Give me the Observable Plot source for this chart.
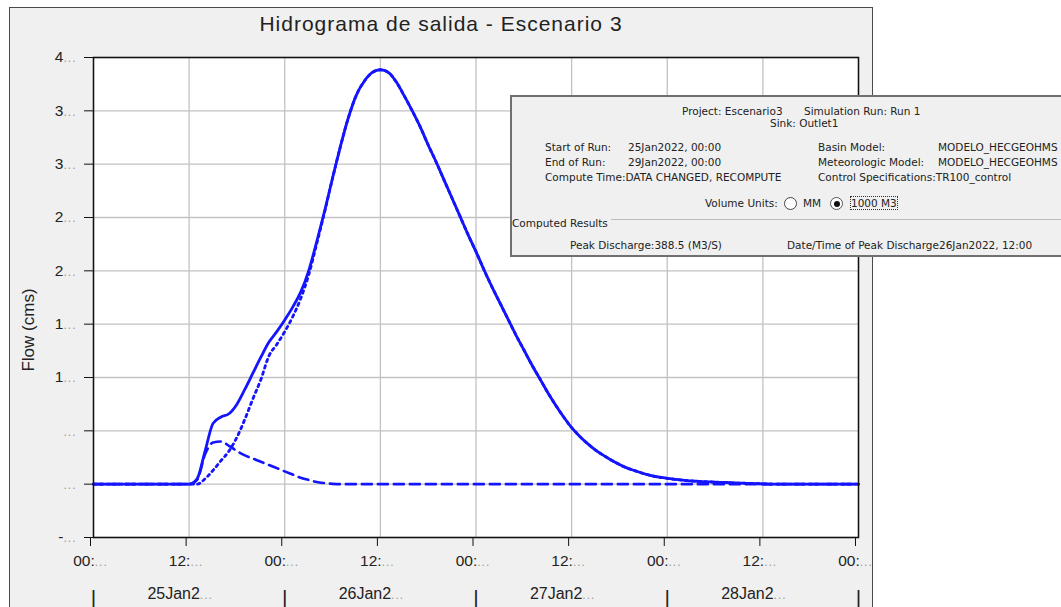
<!DOCTYPE html>
<html><head><meta charset="utf-8">
<script src="https://cdn.jsdelivr.net/npm/d3@7"></script>
<script src="https://cdn.jsdelivr.net/npm/@observablehq/plot@0.6"></script>
<style>
html,body{margin:0;padding:0;background:#fff;}
body{width:1061px;height:607px;overflow:hidden;position:relative;font-family:"Liberation Sans",Arial,sans-serif;}
#panel{position:absolute;left:9px;top:7px;width:864px;height:610px;background:#f0f0f0;border:1.5px solid #4a4a4a;box-sizing:border-box;}
#chart{position:absolute;left:0;top:0;}
#title{position:absolute;left:9px;width:864px;top:12px;text-align:center;font-size:21px;letter-spacing:1px;color:#222;white-space:nowrap;}
#ylab{position:absolute;left:29px;top:330px;transform:translate(-50%,-50%) rotate(-90deg);font-size:17px;color:#222;white-space:nowrap;}
#info{position:absolute;left:510px;top:95px;width:570px;height:162px;background:#f0f0f0;border:2px solid #707070;box-sizing:border-box;}
.t{position:absolute;font-family:"DejaVu Sans",sans-serif;font-size:10.5px;line-height:12px;color:#222;white-space:nowrap;}
.radio{position:absolute;width:13px;height:13px;border-radius:50%;border:1px solid #444;background:#fff;box-sizing:border-box;}
.radio.on::after{content:"";position:absolute;left:2.5px;top:2.5px;width:6px;height:6px;border-radius:50%;background:#111;}
#sep{position:absolute;left:611px;top:219px;width:460px;height:1px;background:#bdbdbd;}
</style></head>
<body>
<div id="panel"></div>
<div id="chart"></div>
<div id="title">Hidrograma de salida - Escenario 3</div>
<div id="ylab">Flow (cms)</div>
<div id="info"></div>
<div id="sep"></div>
<script>
// ---- data ----
const startDay = Date.UTC(2022, 0, 25);
const hours = d3.range(0, 97);               // hourly time steps from 25Jan2022 00:00
// Outlet1 total outflow (solid)
const totalFlow = [0,0,0,0,0,0,0,0,0,0,0,0,0,5,31,57,63,66,75,89,104,119,133,143,154,166,180,200,227,256,287,317,344,365,378,386,388.5,386,377,364,350,335,318,302,285,268,251,234,218,201,185,170,155,140,126,112,99,86,74,63,53,45,38,32,27,22.5,18.5,15,12.5,10,8,6.5,5.5,4.5,3.7,3,2.6,2.2,1.9,1.6,1.3,1,0.8,0.5,0.3,0,0,0,0,0,0,0,0,0,0,0,0,0];
// first inflow (dashed)
const dashedFlow = [0,0,0,0,0,0,0,0,0,0,0,0,0,4,28,39,40,36,31,27,24,21,18,15,12,9,6,4,2,1,0.3,0,0,0,0,0,0,0,0,0,0,0,0,0,0,0,0,0,0,0,0,0,0,0,0,0,0,0,0,0,0,0,0,0,0,0,0,0,0,0,0,0,0,0,0,0,0,0,0,0,0,0,0,0,0,0,0,0,0,0,0,0,0,0,0,0,0];
// second inflow (dotted)
const dottedFlow = [0,0,0,0,0,0,0,0,0,0,0,0,0,0,5,13,22,31,44,61,80,98,120,131,143,157,174,196,225,255,287,317,344,365,378,386,388.5,386,377,364,350,335,318,302,285,268,251,234,218,201,185,170,155,140,126,112,99,86,74,63,53,45,38,32,27,22.5,18.5,15,12.5,10,8,6.5,5.5,4.5,3.7,3,2.6,2.2,1.9,1.6,1.3,1,0.8,0.5,0.3,0,0,0,0,0,0,0,0,0,0,0,0,0];

const yTicks = [-50,0,50,100,150,200,250,300,350,400];
const yTickLabels = ["-...","...","...","1...","1...","2...","2...","3...","3...","4..."];
const xTickHours = [0,12,24,36,48,60,72,84,96];
const xTickLabels = ["00:...","12:...","00:...","12:...","00:...","12:...","00:...","12:...","00:..."];
const dayNames = ["25Jan2...","26Jan2...","27Jan2...","28Jan2..."];
const dayBoundHours = [0,24,48,72,96];

// ---- build ----
const H = 3600e3;
const toDate = h => new Date(startDay + h * H);
const rows = (arr, s) => hours.map((h, i) => ({t: toDate(h), v: arr[i], s}));
const xTicks = xTickHours.map(toDate);
const blue = "#1414ff";

const chart = Plot.plot({
  width: 1061, height: 607,
  marginLeft: 93, marginRight: 203, marginTop: 57, marginBottom: 70,
  style: {background: "transparent", fontFamily: "Liberation Sans, Arial, sans-serif", fontSize: "15px", color: "#222", overflow: "visible"},
  x: {type: "utc", domain: [toDate(0), toDate(96)]},
  y: {domain: [-50, 400]},
  marks: [
    Plot.frame({fill: "white"}),
    Plot.gridX(xTicks, {stroke: "#c2c2c2", strokeOpacity: 1, strokeWidth: 1.3}),
    Plot.gridY(yTicks, {stroke: "#c2c2c2", strokeOpacity: 1, strokeWidth: 1.3}),
    Plot.lineY(rows(dashedFlow, "a"), {x: "t", y: "v", stroke: blue, strokeWidth: 2.6, strokeDasharray: "10,6", curve: "monotone-x"}),
    Plot.lineY(rows(dottedFlow, "b"), {x: "t", y: "v", stroke: blue, strokeWidth: 2.8, strokeDasharray: "2.5,4", curve: "monotone-x"}),
    Plot.lineY(rows(totalFlow, "c"), {x: "t", y: "v", stroke: blue, strokeWidth: 2.8, curve: "monotone-x"}),
    Plot.frame({stroke: "#111", strokeWidth: 1.5}),
    Plot.axisX(xTicks, {tickSize: 9, tickPadding: 8, label: null, fontSize: 15, dx: -3, stroke: "#111",
      tickFormat: (d) => xTickLabels[xTicks.findIndex(t => +t === +d)]}),
    Plot.axisY(yTicks, {tickSize: 9, tickPadding: 8, label: null, fontSize: 15, stroke: "#111",
      tickFormat: (d) => yTickLabels[yTicks.indexOf(d)]}),
    Plot.text(dayNames, {x: (d, i) => toDate(dayBoundHours[i] + 12), frameAnchor: "bottom", dy: 61, dx: -9, text: d => d, fontSize: 16, fill: "#222"}),
    Plot.text(dayBoundHours, {x: d => toDate(d), frameAnchor: "bottom", dy: 67, text: () => "|", fontSize: 21, fill: "#222"})
  ]
});
document.getElementById("chart").appendChild(chart);

// grey, smaller ellipsis on truncated labels
d3.select(chart).selectAll("text").each(function () {
  const txt = this.textContent;
  const k = txt.indexOf(".");
  if (k < 0) return;
  const head = txt.slice(0, k), tail = txt.slice(k);
  const size = txt.includes("Jan") ? "16px" : "15.5px";
  while (this.firstChild) this.removeChild(this.firstChild);
  const s = d3.select(this).attr("font-size", size);
  s.append("tspan").attr("font-size", size).attr("fill", "#222").text(head);
  s.append("tspan").attr("fill", "#9a9a9a").attr("font-size", "12px").attr("letter-spacing", "1px").text(tail);
});

// ---- info panel ----
const infoItems = [
  ["Project: Escenario3", 682, 105], ["Simulation Run: Run 1", 804, 105],
  ["Sink: Outlet1", 770, 117],
  ["Start of Run:", 545, 141], ["25Jan2022, 00:00", 628, 141],
  ["End of Run:", 545, 156], ["29Jan2022, 00:00", 628, 156],
  ["Compute Time:DATA CHANGED, RECOMPUTE", 545, 171],
  ["Basin Model:", 818, 141], ["MODELO_HECGEOHMS", 938, 141],
  ["Meteorologic Model:", 818, 156], ["MODELO_HECGEOHMS", 938, 156],
  ["Control Specifications:TR100_control", 818, 171],
  ["Volume Units:", 705, 197], ["MM", 803, 197],
  ["Computed Results", 512, 217],
  ["Peak Discharge:388.5 (M3/S)", 570, 239],
  ["Date/Time of Peak Discharge26Jan2022, 12:00", 787, 239]
];
for (const [text, x, y] of infoItems) {
  const d = document.createElement("div");
  d.className = "t"; d.textContent = text;
  d.style.left = x + "px"; d.style.top = y + "px";
  document.body.appendChild(d);
}
const r1 = document.createElement("div"); r1.className = "radio"; r1.style.left = "784px"; r1.style.top = "197px"; document.body.appendChild(r1);
const r2 = document.createElement("div"); r2.className = "radio on"; r2.style.left = "830px"; r2.style.top = "197px"; r2.style.borderColor = "#555"; document.body.appendChild(r2);
const sel = document.createElement("div"); sel.className = "t"; sel.textContent = "1000 M3";
sel.style.left = "851px"; sel.style.top = "197px"; sel.style.outline = "1px dotted #333"; sel.style.outlineOffset = "0px";
document.body.appendChild(sel);
</script>
</body></html>
